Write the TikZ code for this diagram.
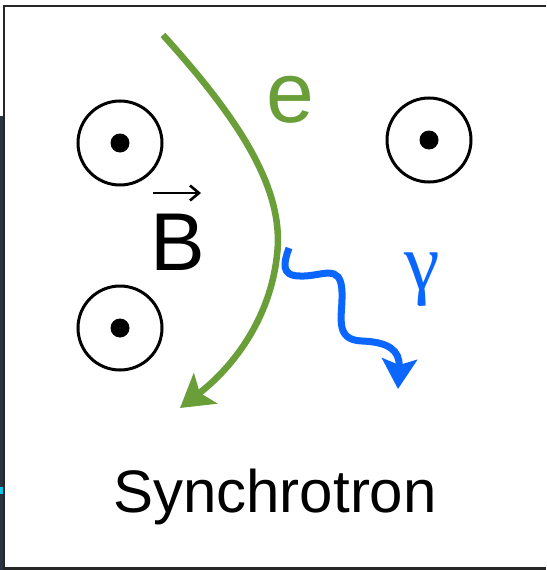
\documentclass[tikz,border=0pt]{standalone}
\usepackage{fontspec}
\setmainfont{Liberation Sans}
\newfontfamily\gammafont{Liberation Serif}
\usetikzlibrary{arrows.meta}
\definecolor{egreen}{RGB}{105,158,56}
\definecolor{gblue}{RGB}{10,102,255}
\definecolor{stripdark}{RGB}{43,50,66}
\definecolor{stripcyan}{RGB}{0,200,230}
\tikzset{
  fieldring/.style={draw=black, line width=3pt, circle, minimum size=84pt, inner sep=0pt},
  fielddot/.style={fill=black, circle, minimum size=19pt, inner sep=0pt},
  bigtext/.style={font=\fontsize{82}{96}\selectfont, inner sep=0pt, anchor=base},
}
\begin{document}
\begin{tikzpicture}[x=1pt, y=-1pt]
\useasboundingbox (0,0) rectangle (546,570);
\fill[white] (0,0) rectangle (546,570);
% screenshot strip at left
\fill[stripdark] (0,116) rectangle (3,570);
\fill[stripcyan] (0,487) rectangle (3,494);
% frame
\draw[line width=2.5pt, black!85] (546,6) -- (4,6) -- (4,568.5) -- (546,568.5);
% field circles
\foreach \n/\px/\py in {c1/120/143, c2/429/140, c3/120/328}{
  \node[fieldring] (\n) at (\px,\py) {};
  \node[fielddot] (\n d) at (\px,\py) {};
}
% electron path
\coordinate (es) at (163,35);
\coordinate (em) at (277,255);
\coordinate (ee) at (180,408);
\draw[egreen, line width=6.5pt, -{Stealth[length=32pt, width=38pt, inset=7pt]}]
  (es) .. controls (240,120) and (285,190) .. (em)
       .. controls (270,320) and (232,368) .. (ee);
% photon
\coordinate (ps) at (289,248);
\coordinate (pe) at (398,389);
\draw[gblue, line width=7pt, -{Stealth[length=30pt, width=35pt, inset=6pt]}]
  (ps) .. controls (284,262) and (280,276) .. (300,276)
       .. controls (322,277) and (341,262) .. (342,292)
       .. controls (343,315) and (333,340) .. (362,341)
       .. controls (388,342) and (400,350) .. (pe);
% labels
\node[bigtext, text=egreen, font=\fontsize{86}{100}\selectfont] (elab) at (290.5,122) {e};
\node[bigtext] (blab) at (177.5,270) {B};
\coordinate (ba) at (153,193);
\coordinate (bb) at (201,193);
\draw[line width=2.6pt, -{Straight Barb[length=9pt, width=15pt]}] (ba) -- (bb);
\node[bigtext, text=gblue, font=\fontsize{80}{100}\selectfont\gammafont] (glab) at (422,289) {γ};
\node[inner sep=0pt, anchor=base, font=\fontsize{60}{72}\selectfont] (title) at (275,512) {Synchrotron};
\end{tikzpicture}
\end{document}
